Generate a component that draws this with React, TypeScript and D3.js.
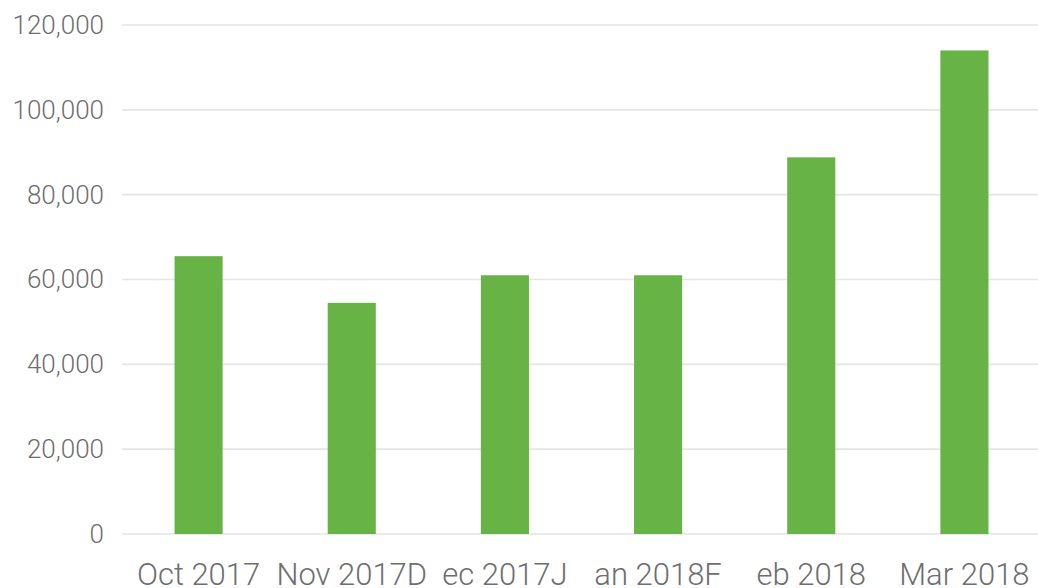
import React, { useRef, useEffect } from "react";
import * as d3 from "d3";

const months = ["Oct 2017", "Nov 2017", "Dec 2017", "Jan 2018", "Feb 2018", "Mar 2018"];
const tickLabels = ["Oct 2017", "Nov 2017D", "ec 2017J", "an 2018F", "eb 2018", "Mar 2018"];
const values = [65500, 54500, 61000, 61000, 88800, 114000];
const yTicks = [0, 20000, 40000, 60000, 80000, 100000, 120000];

export default function App() {
    const svgRef = useRef<SVGSVGElement>(null);

    useEffect(() => {
        const svg = d3.select(svgRef.current);
        svg.selectAll("*").remove();
        const width = 1038,
            height = 588;
        const left = 122,
            right = 1041,
            top = 25,
            bottom = 534;

        const x = d3
            .scaleBand()
            .domain(months)
            .range([left, right])
            .paddingInner(0.686)
            .paddingOuter(0.343);
        const y = d3.scaleLinear().domain([0, 120000]).range([bottom, top]);

        svg.append("g")
            .selectAll("line")
            .data(yTicks)
            .join("line")
            .attr("x1", left)
            .attr("x2", width)
            .attr("y1", (d) => y(d))
            .attr("y2", (d) => y(d))
            .attr("stroke", "#e5e5e5")
            .attr("stroke-width", 1.6);

        svg.append("g")
            .selectAll("text")
            .data(yTicks)
            .join("text")
            .attr("x", 104)
            .attr("y", (d) => y(d))
            .attr("dy", "0.34em")
            .attr("text-anchor", "end")
            .attr("font-family", "Roboto")
            .attr("font-weight", 300)
            .attr("font-size", 26)
            .attr("fill", "#6e6e6e")
            .text((d) => d3.format(",")(d));

        svg.append("g")
            .selectAll("rect")
            .data(values)
            .join("rect")
            .attr("x", (d, i) => x(months[i])!)
            .attr("width", x.bandwidth())
            .attr("y", (d) => y(d))
            .attr("height", (d) => y(0) - y(d))
            .attr("fill", "#67b346");

        svg.append("g")
            .selectAll("text")
            .data(tickLabels)
            .join("text")
            .attr("x", (d, i) => x(months[i])! + x.bandwidth() / 2)
            .attr("y", 585)
            .attr("text-anchor", "middle")
            .attr("font-family", "Roboto")
            .attr("font-weight", 300)
            .attr("font-size", 31)
            .attr("fill", "#6e6e6e")
            .text((d) => d);
    }, []);

    return (
        <svg
            ref={svgRef}
            width={1038}
            height={588}
            style={{ position: "absolute", left: 0, top: 0, background: "#fff" }}
        ></svg>
    );
}
